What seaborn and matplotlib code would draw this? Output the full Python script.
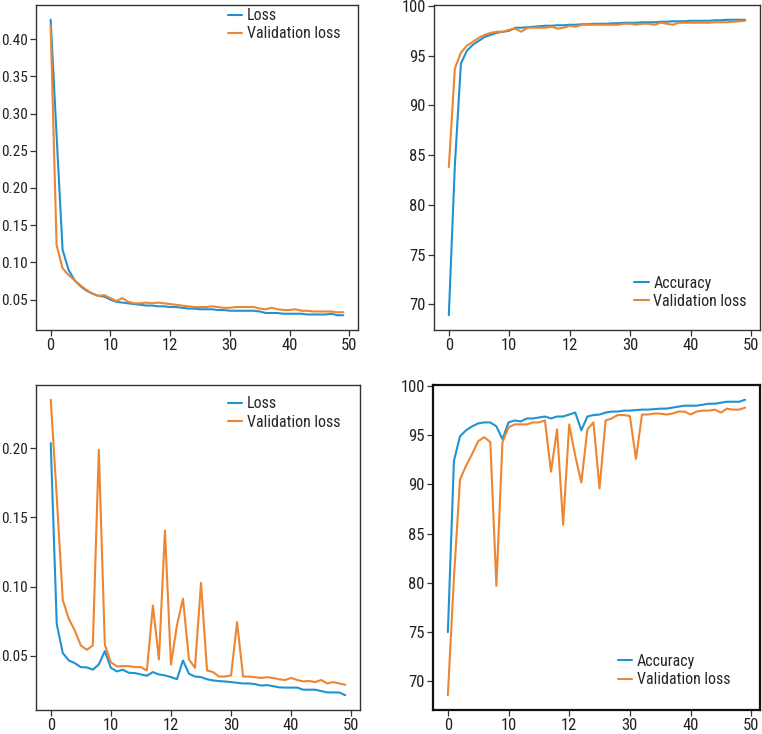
import numpy as np
import pandas as pd
import matplotlib
matplotlib.use("Agg")
import matplotlib.pyplot as plt
import matplotlib.ticker as mticker
import seaborn as sns

epochs = list(range(50))

loss_a = [0.426, 0.27, 0.117, 0.090, 0.076, 0.068, 0.062, 0.058, 0.055, 0.054,
          0.050, 0.047, 0.046, 0.045, 0.044, 0.043, 0.042, 0.042, 0.041, 0.041,
          0.040, 0.040, 0.039, 0.038, 0.038, 0.037, 0.037, 0.037, 0.036, 0.036,
          0.035, 0.035, 0.035, 0.035, 0.035, 0.034, 0.032, 0.032, 0.032, 0.031,
          0.031, 0.031, 0.031, 0.030, 0.030, 0.030, 0.030, 0.031, 0.029, 0.029]
val_loss_a = [0.418, 0.123, 0.092, 0.083, 0.076, 0.069, 0.063, 0.058, 0.055, 0.056,
              0.052, 0.048, 0.052, 0.047, 0.045, 0.045, 0.046, 0.045, 0.046, 0.045,
              0.044, 0.043, 0.042, 0.041, 0.040, 0.040, 0.040, 0.041, 0.040, 0.039,
              0.039, 0.040, 0.040, 0.040, 0.040, 0.038, 0.037, 0.039, 0.037, 0.036,
              0.036, 0.037, 0.035, 0.035, 0.034, 0.034, 0.034, 0.034, 0.033, 0.033]

acc_a = [68.9, 84.0, 94.2, 95.5, 96.1, 96.5, 96.9, 97.1, 97.3, 97.4,
         97.5, 97.8, 97.8, 97.85, 97.9, 97.95, 98.0, 98.0, 98.05, 98.05,
         98.1, 98.1, 98.15, 98.15, 98.2, 98.2, 98.2, 98.25, 98.25, 98.3,
         98.3, 98.3, 98.35, 98.35, 98.35, 98.4, 98.4, 98.45, 98.45, 98.45,
         98.5, 98.5, 98.5, 98.5, 98.55, 98.55, 98.6, 98.6, 98.6, 98.6]
val_acc_a = [83.8, 93.7, 95.3, 96.0, 96.4, 96.8, 97.1, 97.3, 97.4, 97.4,
             97.6, 97.7, 97.4, 97.8, 97.8, 97.8, 97.8, 97.9, 97.7, 97.8,
             98.0, 97.9, 98.1, 98.1, 98.1, 98.1, 98.1, 98.1, 98.1, 98.2,
             98.2, 98.1, 98.2, 98.2, 98.1, 98.3, 98.2, 98.1, 98.3, 98.3,
             98.3, 98.3, 98.3, 98.3, 98.35, 98.35, 98.35, 98.4, 98.45, 98.5]

loss_b = [0.2036, 0.073, 0.052, 0.0466, 0.0447, 0.0418, 0.0416, 0.040, 0.0437, 0.0534,
          0.0413, 0.0387, 0.0399, 0.0377, 0.0375, 0.0365, 0.0356, 0.0382, 0.0365, 0.0358,
          0.0346, 0.0331, 0.0466, 0.037, 0.035, 0.0346, 0.033, 0.0322, 0.0317, 0.0314,
          0.031, 0.0305, 0.030, 0.030, 0.0295, 0.0285, 0.0288, 0.028, 0.0272, 0.027,
          0.027, 0.027, 0.0255, 0.0255, 0.0255, 0.0245, 0.0235, 0.0235, 0.0235, 0.0215]
val_loss_b = [0.2349, 0.165, 0.0904, 0.0767, 0.0683, 0.0575, 0.0543, 0.0575, 0.1988, 0.058,
              0.0454, 0.0423, 0.0425, 0.0425, 0.0418, 0.0418, 0.0394, 0.0863, 0.0473, 0.1405,
              0.0437, 0.072, 0.0912, 0.0473, 0.0413, 0.1027, 0.0394, 0.0382, 0.035, 0.035,
              0.0358, 0.0743, 0.035, 0.035, 0.0345, 0.034, 0.0345, 0.034, 0.033, 0.0325,
              0.034, 0.0325, 0.0315, 0.0318, 0.031, 0.0325, 0.030, 0.031, 0.030, 0.029]

acc_b = [75.0, 92.4, 94.9, 95.5, 95.9, 96.2, 96.3, 96.3, 95.9, 94.6,
         96.3, 96.5, 96.4, 96.7, 96.7, 96.8, 96.9, 96.7, 96.9, 96.9,
         97.1, 97.3, 95.5, 96.9, 97.05, 97.1, 97.3, 97.4, 97.4, 97.5,
         97.5, 97.55, 97.6, 97.6, 97.65, 97.7, 97.7, 97.8, 97.9, 98.0,
         98.0, 98.0, 98.1, 98.2, 98.2, 98.3, 98.4, 98.4, 98.4, 98.6]
val_acc_b = [68.6, 80.5, 90.5, 91.9, 93.1, 94.4, 94.8, 94.3, 79.7, 94.3,
             95.8, 96.1, 96.1, 96.1, 96.3, 96.3, 96.5, 91.3, 95.6, 85.9,
             96.1, 92.9, 90.2, 95.6, 96.3, 89.6, 96.5, 96.7, 97.05, 97.05,
             96.95, 92.6, 97.1, 97.1, 97.2, 97.2, 97.1, 97.2, 97.4, 97.4,
             97.1, 97.4, 97.5, 97.5, 97.6, 97.3, 97.7, 97.6, 97.6, 97.8]

xtick_pos = [0, 10, 20, 30, 40, 50]
xtick_labels = ["0", "10", "12", "30", "40", "50"]

BLUE = "#1f93d1"
ORANGE = "#ee8530"

sns.set_theme(style="ticks")
plt.rcParams['font.family'] = ['Liberation Sans Narrow', 'Roboto Condensed',
                               'Lato', 'DejaVu Sans']

fig = plt.figure(figsize=(7.62, 7.34), dpi=100)

positions = [
    [36 / 762, 1 - 330 / 734, 322 / 762, 325 / 734],
    [434 / 762, 1 - 330 / 734, 326 / 762, 325 / 734],
    [36 / 762, 1 - 710 / 734, 324 / 762, 325 / 734],
    [433 / 762, 1 - 710 / 734, 327 / 762, 325 / 734],
]

panels = [
    (loss_a, val_loss_a, "Loss", "Validation loss", "upper right", (0.945, 0.99)),
    (acc_a, val_acc_a, "Accuracy", "Validation loss", "lower right", (0.96, 0.065)),
    (loss_b, val_loss_b, "Loss", "Validation loss", "upper right", (0.94, 0.965)),
    (acc_b, val_acc_b, "Accuracy", "Validation loss", "lower right", (0.91, 0.07)),
]

for i, (pos, (s1, s2, l1, l2, loc, anchor)) in enumerate(zip(positions, panels)):
    ax = fig.add_axes(pos)
    df = pd.DataFrame({"epoch": epochs, l1: s1, l2: s2})
    long = df.melt(id_vars="epoch", var_name="series", value_name="value")
    sns.lineplot(data=long, x="epoch", y="value", hue="series",
                 palette=[BLUE, ORANGE], linewidth=1.5, ax=ax)
    ax.set_xlabel("")
    ax.set_ylabel("")
    ax.set_xticks(xtick_pos)
    ax.set_xticklabels(xtick_labels)
    ax.tick_params(labelsize=12, length=4, width=0.9, color="#333333",
                   labelcolor="#222222", pad=2)
    if i in (0, 2):
        ax.yaxis.set_major_formatter(mticker.FormatStrFormatter("%.2f"))
        ax.tick_params(axis="y", labelsize=11)
    for sp in ax.spines.values():
        sp.set_visible(True)
        sp.set_color("#111111" if i == 3 else "#333333")
        sp.set_linewidth(1.6 if i == 3 else 1.0)
    ax.legend(loc=loc, bbox_to_anchor=anchor, bbox_transform=ax.transAxes,
              frameon=False, fontsize=11.5, handlelength=0.9,
              handletextpad=0.3, labelspacing=0.2, borderpad=0,
              borderaxespad=0)

fig.savefig("out.png", dpi=100)
